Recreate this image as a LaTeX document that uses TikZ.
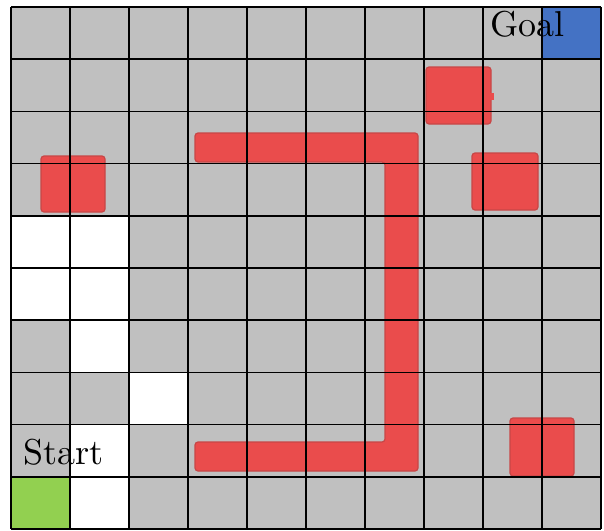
\documentclass[tikz,border=0pt]{standalone}
\definecolor{cellgray}{RGB}{192,192,192}
\definecolor{goalblue}{RGB}{68,114,196}
\definecolor{startgreen}{RGB}{146,208,80}
\definecolor{obsred}{RGB}{234,76,76}
\definecolor{obsedge}{RGB}{200,70,70}
\begin{document}
\begin{tikzpicture}[x=1pt,y=-1pt,
  obstacle/.style={fill=obsred,draw=obsedge,line width=1.2pt,rounded corners=3pt},
  gridline/.style={draw=black,line width=1.6pt},
  lbl/.style={inner sep=0pt,anchor=base west,font=\fontsize{10}{12}\selectfont,scale=3.6}]
\useasboundingbox (0,0) rectangle (604,530);
\fill[white] (0,0) rectangle (604,530);
% background cells
\fill[cellgray] (11,7) rectangle (601,529);
% white cells
\fill[white] (11,215.8) rectangle (129,320.2);
\fill[white] (70,320.2) rectangle (129,372.4);
\fill[white] (129,372.4) rectangle (188,424.6);
\fill[white] (70,424.6) rectangle (129,529);
% start / goal cells
\fill[startgreen] (11,476.8) rectangle (70,529);
\fill[goalblue] (542,7) rectangle (601,59.2);
% obstacles
\draw[obstacle] (41,156) rectangle (105,212);
\draw[obstacle] (426,67) rectangle (491,124);
\fill[obsred] (490,93) rectangle (494,100);
\draw[obstacle] (472,153) rectangle (538,210);
\draw[obstacle] (510,418) rectangle (574,476);
\draw[obstacle] (195,133) -- (418,133) -- (418,471) -- (195,471) -- (195,442)
  -- (385,442) -- (385,162) -- (195,162) -- cycle;
% grid
\foreach \i in {0,...,10} {
  \draw[gridline] (11+59*\i,7) -- (11+59*\i,529);
  \draw[gridline] (11,7+52.2*\i) -- (601,7+52.2*\i);
}
% labels
\node[lbl] (start) at (23,464) {Start};
\node[lbl] (goal) at (490,36) {Goal};
\end{tikzpicture}
\end{document}
